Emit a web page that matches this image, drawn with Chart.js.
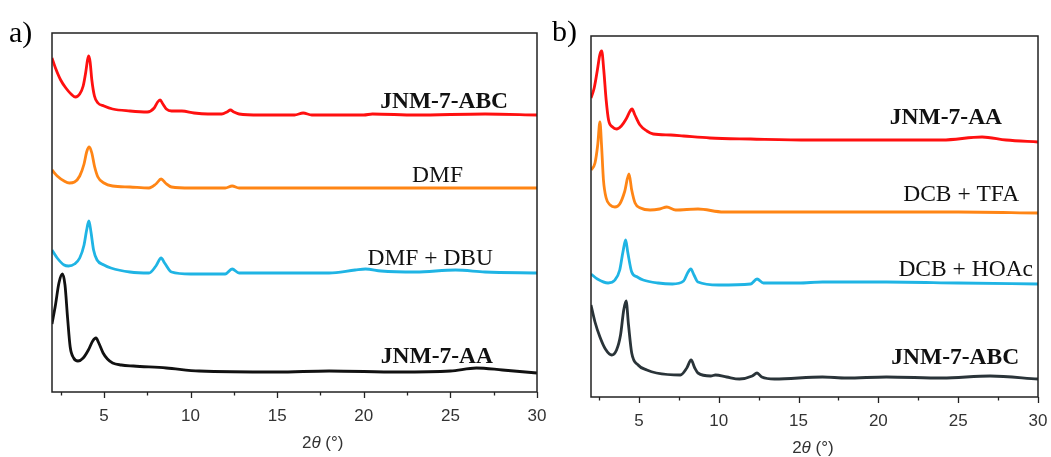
<!DOCTYPE html>
<html>
<head>
<meta charset="utf-8">
<script src="https://cdn.jsdelivr.net/npm/chart.js@4.4.1/dist/chart.umd.min.js"></script>
<style>
  body { margin: 0; background: #fff; }
  canvas { position: absolute; top: 0; }
  #chartA { left: 0; }
  #chartB { left: 545px; }
</style>
</head>
<body>
<canvas id="chartA" width="553" height="457"></canvas>
<canvas id="chartB" width="506" height="457"></canvas>
<script>
// x ticks (2θ, degrees)
const majorTicks = [5, 10, 15, 20, 25, 30];
const minorTicks = [2.5, 7.5, 12.5, 17.5, 22.5, 27.5];

// panel a) -- intensity with stacking offset, arbitrary units
const aRedX   = [2.0, 2.2, 2.5, 2.8, 3.1, 3.35, 3.6, 3.8, 3.95, 4.05, 4.12, 4.2, 4.3, 4.45, 4.65, 5.0, 5.5, 6.5, 7.5, 7.9, 8.1, 8.24, 8.4, 8.6, 8.9, 9.5, 10.2, 11, 11.8, 12.1, 12.3, 12.5, 12.8, 14, 16, 16.5, 17, 20, 20.5, 23, 27, 30];
const aRedY   = [334, 324, 312, 304, 298, 295, 298, 306, 320, 332, 336, 330, 312, 296, 289, 286, 283, 281, 280, 284, 290, 292, 288, 283, 281, 281, 279, 278, 278, 280, 282, 280, 278, 277, 277, 279, 277, 277, 278, 277, 278, 277];

const aOrangeX = [2.0, 2.3, 2.7, 3.0, 3.3, 3.6, 3.85, 4.0, 4.15, 4.3, 4.45, 4.65, 5.0, 5.5, 6.5, 7.6, 8.0, 8.3, 8.55, 8.9, 10, 12, 12.4, 12.8, 20, 25, 30];
const aOrangeY = [222, 216, 211, 209, 210, 216, 228, 240, 245, 239, 226, 215, 209, 206, 205, 204, 208, 213, 209, 205, 204, 204, 206, 204, 204, 204, 204];

const aCyanX = [2.0, 2.3, 2.7, 2.95, 3.3, 3.6, 3.85, 4.0, 4.13, 4.25, 4.4, 4.6, 5.0, 5.4, 6.5, 7.6, 8.0, 8.3, 8.5, 8.9, 10, 12, 12.4, 12.8, 15, 18, 19.5, 20.1, 21, 23, 25.3, 27, 30];
const aCyanY = [142, 134, 127, 126, 128, 134, 147, 162, 171, 160, 142, 132, 127, 124, 120, 119, 126, 134, 129, 120, 118, 118, 123, 119, 119, 119, 122, 123, 121, 120, 122, 120, 119];

const aBlackX = [2.0, 2.2, 2.4, 2.6, 2.75, 2.9, 3.05, 3.25, 3.5, 3.8, 4.1, 4.35, 4.54, 4.7, 4.95, 5.2, 5.5, 6.0, 6.7, 8.6, 10.5, 15, 18, 22, 25, 26.5, 28, 30];
const aBlackY = [68, 87, 109, 118, 107, 74, 45, 34, 31, 34, 42, 51, 54, 49, 39, 33, 29, 27, 26, 24, 21, 20, 21, 20, 21, 24, 22, 19];

// panel b)
const bRedX = [2.0, 2.2, 2.4, 2.55, 2.67, 2.8, 2.95, 3.1, 3.35, 3.6, 3.9, 4.2, 4.45, 4.57, 4.75, 5.07, 5.5, 5.9, 7.0, 7.8, 9.45, 12, 15.7, 20, 24, 26.5, 28, 30];
const bRedY = [299, 309, 327, 342, 346, 327, 297, 277, 270, 268, 271, 278, 286, 288, 282, 272, 266, 263, 262, 261, 259, 258, 257, 257, 257, 260, 257, 255];

const bOrangeX = [2.0, 2.25, 2.42, 2.56, 2.66, 2.78, 2.95, 3.2, 3.5, 3.8, 4.1, 4.38, 4.55, 4.76, 5.1, 5.7, 6.3, 6.75, 7.3, 8.7, 10.3, 15, 20, 25, 30];
const bOrangeY = [227, 234, 252, 275, 252, 217, 199, 192, 190, 193, 205, 223, 207, 194, 189, 187, 188, 190, 187, 188, 185, 185, 185, 185, 184];

const bCyanX = [2.0, 2.4, 3.07, 3.5, 3.8, 4.0, 4.17, 4.3, 4.55, 4.9, 5.27, 6.2, 7.1, 7.8, 8.05, 8.25, 8.45, 8.7, 10, 12, 12.4, 12.8, 15, 16.5, 20.5, 25, 30];
const bCyanY = [123, 118, 114, 117, 127, 145, 157, 145, 125, 120, 117, 114, 113, 116, 124, 128, 122, 115, 112, 113, 118, 114, 114, 115, 115, 114, 113];

const bDarkX = [2.0, 2.25, 2.56, 2.9, 3.3, 3.6, 3.85, 4.05, 4.2, 4.35, 4.55, 4.95, 5.5, 6.1, 7.6, 8.0, 8.27, 8.5, 8.7, 9.5, 9.8, 10.5, 11.3, 12.1, 12.4, 12.7, 13.5, 16.5, 18, 20.5, 24, 27, 30];
const bDarkY = [92, 75, 60, 48, 42, 47, 62, 87, 96, 72, 44, 32, 27, 24, 22, 29, 37, 29, 24, 21, 22, 20, 18, 21, 24, 20, 18, 20, 19, 20, 19, 21, 18];

// curve labels: text, right-edge x, y (data units), bold
const aLabels = [
  ['JNM-7-ABC', 28.33, 290, true],
  ['DMF', 25.73, 216, false],
  ['DMF + DBU', 27.46, 133, false],
  ['JNM-7-AA', 27.46, 35, true]
];
const bLabels = [
  ['JNM-7-AA', 27.75, 279, true],
  ['DCB + TFA', 28.82, 202, false],
  ['DCB + HOAc', 29.69, 127, false],
  ['JNM-7-ABC', 28.82, 39, true]
];

function pts(xs, ys) {
  return xs.map((x, i) => ({ x: x, y: ys[i] }));
}

function line(xs, ys, color) {
  return {
    data: pts(xs, ys),
    borderColor: color,
    borderWidth: 2.8,
    pointRadius: 0,
    cubicInterpolationMode: 'monotone',
    fill: false
  };
}

// frame, tick marks, curve labels, axis title and panel letter
const decor = {
  id: 'decor',
  afterDraw(chart, args, opts) {
    const ctx = chart.ctx;
    const a = chart.chartArea;
    const sx = chart.scales.x, sy = chart.scales.y;
    ctx.save();
    ctx.strokeStyle = '#222';
    ctx.lineWidth = 1.5;
    ctx.strokeRect(a.left, a.top, a.right - a.left, a.bottom - a.top);

    ctx.lineWidth = 1.3;
    ctx.beginPath();
    majorTicks.forEach(v => {
      const px = Math.round(sx.getPixelForValue(v)) + 0.5;
      ctx.moveTo(px, a.bottom); ctx.lineTo(px, a.bottom + 6);
    });
    minorTicks.forEach(v => {
      const px = Math.round(sx.getPixelForValue(v)) + 0.5;
      ctx.moveTo(px, a.bottom); ctx.lineTo(px, a.bottom + 3.5);
    });
    ctx.stroke();

    ctx.fillStyle = '#111';
    ctx.textAlign = 'right';
    ctx.textBaseline = 'middle';
    opts.labels.forEach(l => {
      ctx.font = (l[3] ? 'bold ' : '') + '23.5px "Liberation Serif", "Times New Roman", serif';
      ctx.fillText(l[0], sx.getPixelForValue(l[1]), sy.getPixelForValue(l[2]));
    });

    // 2θ (°)
    ctx.fillStyle = '#333';
    ctx.textAlign = 'left';
    let tx = sx.getPixelForValue(opts.titleX);
    const ty = opts.titleY;
    const parts = [['2', ''], ['θ', 'italic '], [' (°)', '']];
    parts.forEach(p => {
      ctx.font = p[1] + '17px "Liberation Sans", Arial, sans-serif';
      ctx.fillText(p[0], tx, ty);
      tx += ctx.measureText(p[0]).width;
    });

    ctx.fillStyle = '#000';
    ctx.textBaseline = 'alphabetic';
    ctx.font = '30px "Liberation Serif", "Times New Roman", serif';
    ctx.fillText(opts.letter, opts.letterX, opts.letterY);
    ctx.restore();
  }
};

function makeChart(id, datasets, ymax, pad, axisH, decorOpts) {
  return new Chart(document.getElementById(id), {
    type: 'line',
    data: { datasets: datasets },
    plugins: [decor],
    options: {
      responsive: false,
      animation: false,
      events: [],
      layout: { padding: pad },
      plugins: {
        legend: { display: false },
        tooltip: { enabled: false },
        decor: decorOpts
      },
      scales: {
        x: {
          type: 'linear',
          min: 2,
          max: 30,
          afterBuildTicks: s => { s.ticks = majorTicks.map(v => ({ value: v })); },
          afterFit: s => {
            s.height = axisH;
            s.paddingLeft = 0;
            s.paddingRight = 0;
          },
          grid: { display: false, drawTicks: false },
          border: { display: false },
          ticks: {
            padding: 14,
            color: '#333',
            maxRotation: 0,
            font: { family: '"Liberation Sans", Arial, sans-serif', size: 17 }
          }
        },
        y: {
          display: false,
          min: 0,
          max: ymax
        }
      }
    }
  });
}

makeChart('chartA', [
  line(aBlackX, aBlackY, '#111111'),
  line(aCyanX, aCyanY, '#1fb4e4'),
  line(aOrangeX, aOrangeY, '#ff8515'),
  line(aRedX, aRedY, '#ff1010')
], 359, { left: 52, top: 33, right: 16, bottom: 0 }, 65,
  { labels: aLabels, titleX: 16.43, titleY: 443, letter: 'a)', letterX: 9, letterY: 42 });

makeChart('chartB', [
  line(bDarkX, bDarkY, '#2a3439'),
  line(bCyanX, bCyanY, '#1fb4e4'),
  line(bOrangeX, bOrangeY, '#ff8515'),
  line(bRedX, bRedY, '#ff1010')
], 361, { left: 46, top: 36, right: 13, bottom: 0 }, 60,
  { labels: bLabels, titleX: 14.6, titleY: 448, letter: 'b)', letterX: 7, letterY: 41 });
</script>
</body>
</html>
